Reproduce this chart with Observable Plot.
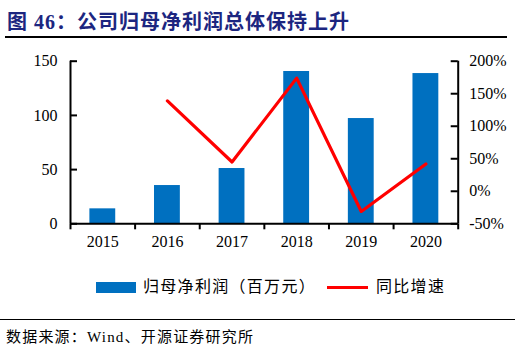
<!DOCTYPE html>
<html>
<head>
<meta charset="utf-8">
<script src="https://cdn.jsdelivr.net/npm/d3@7"></script>
<script src="https://cdn.jsdelivr.net/npm/@observablehq/plot@0.6"></script>
<style>
  html, body { margin: 0; padding: 0; background: #fff; }
  body { width: 532px; height: 352px; position: relative; overflow: hidden; font-family: "Liberation Serif", "Noto Sans CJK SC", serif; }
  .abs { position: absolute; white-space: nowrap; }
  #title { left: 7px; top: 9px; font-size: 20px; line-height: 26px; font-weight: bold; color: #1c2680; letter-spacing: 1px; }
  #rule1 { left: 5px; top: 36px; width: 502px; height: 1.5px; background: #000; }
  #chart { left: 0; top: 40px; }
  .legtxt { font-size: 16px; line-height: 20px; top: 277px; letter-spacing: 1.3px; color: #000; }
  #rule2 { left: 0; top: 318.5px; width: 515px; height: 1.5px; background: #000; }
  #source { left: 6px; top: 326px; font-size: 15px; line-height: 22px; letter-spacing: 1.2px; color: #000; }
</style>
</head>
<body>
<div id="title" class="abs">图 46：公司归母净利润总体保持上升</div>
<div id="rule1" class="abs"></div>
<div id="chart" class="abs"></div>
<div class="abs" style="left:96px;top:282px;width:40px;height:11px;background:#0070C0"></div>
<div class="abs legtxt" style="left:143px">归母净利润（百万元）</div>
<div class="abs" style="left:327px;top:286px;width:41px;height:3px;background:#FF0000"></div>
<div class="abs legtxt" style="left:376px">同比增速</div>
<div id="rule2" class="abs"></div>
<div id="source" class="abs">数据来源：Wind、开源证券研究所</div>
<script>
const years = ["2015", "2016", "2017", "2018", "2019", "2020"];
const profit = [13.8, 35.3, 51.0, 140.5, 97.1, 138.6];
const growthYears = ["2016", "2017", "2018", "2019", "2020"];
const growth = [139, 45, 174, -31, 42];
const leftTicks = [0, 50, 100, 150];
const rightTicks = [-50, 0, 50, 100, 150, 200];

// map right-axis percent onto left-axis units: -50% -> 0, 200% -> 150
const toLeft = p => (p + 50) * 150 / 250;
const fromLeft = v => Math.round(v * 250 / 150 - 50);

const bars = years.map((y, i) => ({i, year: y, value: profit[i]}));
const line = growthYears.map((y, j) => ({i: years.indexOf(y), pct: growth[j]}));
const xDomain = [-0.5, years.length - 0.5];

const W = 532, ML = 70, MR = 74.3, TICK = 7;
const frameW = W - ML - MR;

const chart = Plot.plot({
  width: W,
  height: 230,
  marginTop: 20.7,
  marginBottom: 46.7,
  marginLeft: ML,
  marginRight: MR,
  style: {fontFamily: "'Liberation Serif', serif", fontSize: "16px", color: "#000", background: "transparent"},
  x: {type: "linear", domain: xDomain, label: null},
  y: {domain: [0, 150], label: null},
  marks: [
    Plot.rectY(bars, {x1: d => d.i - 0.2, x2: d => d.i + 0.2, y: "value", fill: "#0070C0"}),
    Plot.line(line, {x: "i", y: d => toLeft(d.pct), stroke: "#FF0000", strokeWidth: 3.2}),
    // x axis: year labels, boundary ticks pointing down
    Plot.axisX({ticks: d3.range(years.length), tickFormat: i => years[i], tickSize: 0, tickPadding: 12, fontSize: 16, label: null}),
    Plot.axisX({ticks: d3.range(-0.5, years.length, 1), tickFormat: () => "", tickSize: 6, strokeWidth: 2, label: null}),
    // y axes labels
    Plot.axisY({anchor: "left", ticks: leftTicks, tickSize: 0, tickPadding: 13, fontSize: 16, label: null}),
    Plot.axisY({anchor: "right", ticks: rightTicks.map(toLeft), tickFormat: v => fromLeft(v) + "%", tickSize: 0, tickPadding: 11, fontSize: 16, label: null}),
    // axis lines
    Plot.ruleX([xDomain[0]], {y1: 0, y2: 150, stroke: "#000", strokeWidth: 2}),
    Plot.ruleX([xDomain[1]], {y1: 0, y2: 150, stroke: "#000", strokeWidth: 2}),
    Plot.ruleY([0], {stroke: "#000", strokeWidth: 2}),
    // inward ticks
    Plot.ruleY(leftTicks, {y: d => d, insetRight: frameW - TICK, stroke: "#000", strokeWidth: 2}),
    Plot.ruleY(rightTicks, {y: d => toLeft(d), insetLeft: frameW - TICK, stroke: "#000", strokeWidth: 2})
  ]
});
document.getElementById("chart").appendChild(chart);
</script>
</body>
</html>
